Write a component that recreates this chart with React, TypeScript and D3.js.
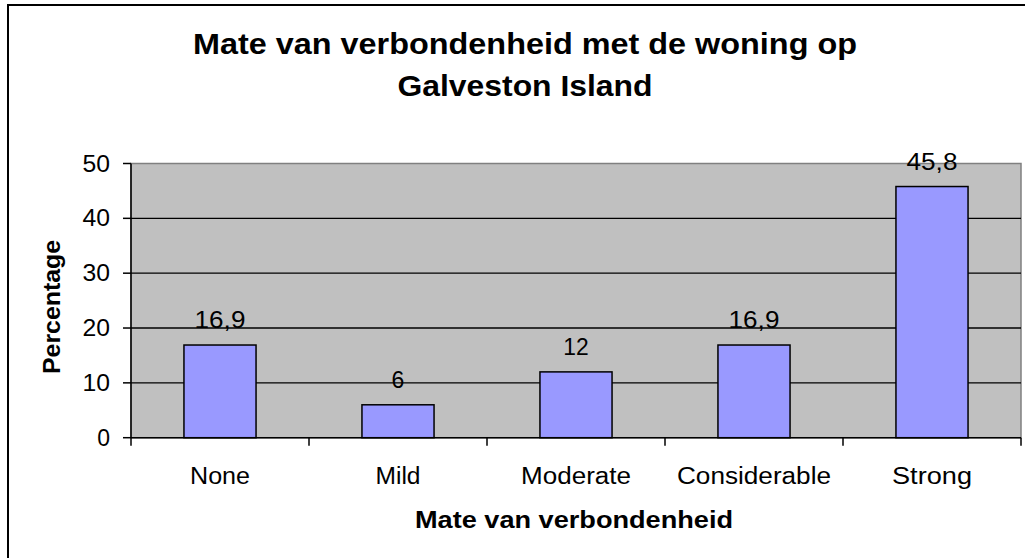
import React from "react";
import * as d3 from "d3";

const categories = ["None", "Mild", "Moderate", "Considerable", "Strong"];
const values = [16.9, 6, 12, 16.9, 45.8];
const valueLabels = ["16,9", "6", "12", "16,9", "45,8"];
const yTicks = [0, 10, 20, 30, 40, 50];
const titleLines = ["Mate van verbondenheid met de woning op", "Galveston Island"];
const xTitle = "Mate van verbondenheid";
const yTitle = "Percentage";

const W = 1025;
const H = 558;
const plot = { left: 131, right: 1021, top: 163.5, bottom: 437.7 };
const FONT = "'Liberation Sans', Arial, sans-serif";

export default function App() {
  const x = d3
    .scaleBand<string>()
    .domain(categories)
    .range([plot.left, plot.right])
    .paddingInner(0)
    .paddingOuter(0);
  const y = d3.scaleLinear().domain([0, 50]).range([plot.bottom, plot.top]);
  const bw = x.bandwidth() * 0.405;
  const catLens: Record<string, number> = {
    None: 60,
    Mild: 45,
    Moderate: 110,
    Considerable: 154,
    Strong: 80,
  };
  const boundaries = d3.range(categories.length + 1).map((i) => plot.left + i * x.bandwidth());

  return (
    <svg
      width={W}
      height={H}
      style={{ position: "fixed", left: 0, top: 0, background: "#fff" }}
      fontFamily={FONT}
    >
      <rect x={0} y={0} width={W} height={H} fill="#fff" />
      <rect x={8} y={5} width={W + 20} height={H + 20} fill="none" stroke="#000" strokeWidth={2} />

      {/* title */}
      {titleLines.map((t, i) => (
        <text
          key={t}
          x={525}
          y={54 + i * 42}
          textAnchor="middle"
          fontWeight="bold"
          fontSize={30}
          textLength={i === 0 ? 664 : 255}
          lengthAdjust="spacingAndGlyphs"
        >
          {t}
        </text>
      ))}

      {/* plot area */}
      <rect
        x={plot.left}
        y={plot.top}
        width={plot.right - plot.left}
        height={plot.bottom - plot.top}
        fill="#C0C0C0"
        stroke="#808080"
        strokeWidth={1.5}
      />
      {yTicks
        .filter((t) => t > 0 && t < 50)
        .map((t) => (
          <line key={t} x1={plot.left} x2={plot.right} y1={y(t)} y2={y(t)} stroke="#000" strokeWidth={1.3} />
        ))}

      {/* bars */}
      {categories.map((c, i) => {
        const cx = (x(c) as number) + x.bandwidth() / 2;
        return (
          <g key={c}>
            <rect
              x={cx - bw / 2}
              y={y(values[i])}
              width={bw}
              height={plot.bottom - y(values[i])}
              fill="#9999FF"
              stroke="#000"
              strokeWidth={1.5}
            />
            <text
              x={cx}
              y={y(values[i]) - 17}
              textAnchor="middle"
              fontSize={23}
              textLength={valueLabels[i].length > 1 ? valueLabels[i].length * 12.7 : undefined}
              lengthAdjust="spacingAndGlyphs"
            >
              {valueLabels[i]}
            </text>
            <text
              x={cx}
              y={484}
              textAnchor="middle"
              fontSize={23}
              textLength={catLens[c]}
              lengthAdjust="spacingAndGlyphs"
            >
              {c}
            </text>
          </g>
        );
      })}

      {/* axes */}
      <line x1={plot.left} x2={plot.left} y1={plot.top} y2={plot.bottom} stroke="#000" strokeWidth={1.5} />
      <line x1={plot.left} x2={plot.right} y1={plot.bottom} y2={plot.bottom} stroke="#000" strokeWidth={1.5} />
      {yTicks.map((t) => (
        <g key={t}>
          <line x1={plot.left - 8} x2={plot.left} y1={y(t)} y2={y(t)} stroke="#000" strokeWidth={1.5} />
          <text
            x={110}
            y={y(t) + 8}
            textAnchor="end"
            fontSize={23}
            textLength={t === 0 ? undefined : 27.5}
            lengthAdjust="spacingAndGlyphs"
          >
            {t}
          </text>
        </g>
      ))}
      {boundaries.map((bx, i) => (
        <line key={i} x1={bx} x2={bx} y1={plot.bottom} y2={plot.bottom + 8} stroke="#000" strokeWidth={1.5} />
      ))}

      {/* axis titles */}
      <text
        x={574}
        y={528}
        textAnchor="middle"
        fontWeight="bold"
        fontSize={23}
        textLength={318}
        lengthAdjust="spacingAndGlyphs"
      >
        {xTitle}
      </text>
      <text
        transform="translate(60,307) rotate(-90)"
        textAnchor="middle"
        fontWeight="bold"
        fontSize={23}
        textLength={134}
        lengthAdjust="spacingAndGlyphs"
      >
        {yTitle}
      </text>
    </svg>
  );
}
